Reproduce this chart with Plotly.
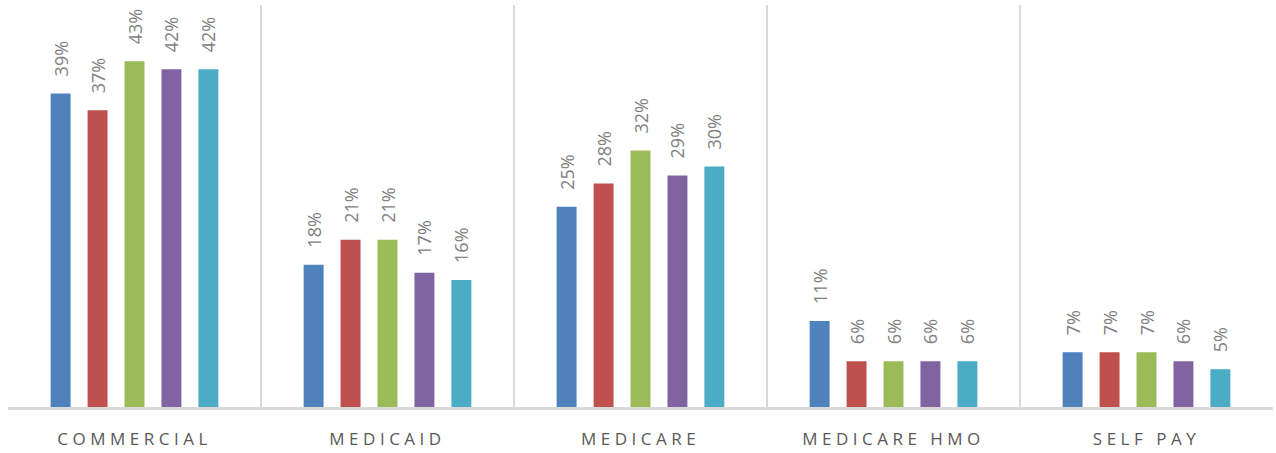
import plotly.graph_objects as go

categories = ["COMMERCIAL", "MEDICAID", "MEDICARE", "MEDICARE HMO", "SELF PAY"]
series_names = ["Series 1", "Series 2", "Series 3", "Series 4", "Series 5"]
s1 = [0.39, 0.177, 0.249, 0.107, 0.068]
s2 = [0.369, 0.208, 0.278, 0.057, 0.068]
s3 = [0.43, 0.208, 0.319, 0.057, 0.068]
s4 = [0.42, 0.167, 0.288, 0.057, 0.057]
s5 = [0.42, 0.158, 0.299, 0.057, 0.047]
series_values = [s1, s2, s3, s4, s5]
colors = ["#4f81bd", "#c0504d", "#9bbb59", "#8064a2", "#4bacc6"]

FONT = "Open Sans, Liberation Sans, sans-serif"
xs = list(range(len(categories)))
fig = go.Figure()
for name, vals, c in zip(series_names, series_values, colors):
    fig.add_trace(go.Bar(
        x=xs, y=vals, name=name, marker=dict(color=c, line=dict(width=0)),
        text=["\u00a0\u00a0\u00a0" + f"{round(v*100)}%" for v in vals], textposition="outside",
        textangle=-90, constraintext="none", cliponaxis=False,
        textfont=dict(family=FONT, size=18, color="#808080"),
        showlegend=False,
    ))

# invisible trace on secondary axis to carry category-boundary gridlines
fig.add_trace(go.Scatter(x=[-0.5, len(categories) - 0.5], y=[0, 0], xaxis="x2",
                         mode="markers", marker=dict(opacity=0), showlegend=False,
                         hoverinfo="skip"))

fig.update_layout(
    width=1276, height=453,
    margin=dict(l=8, r=3, t=5, b=41),
    paper_bgcolor="white", plot_bgcolor="white",
    barmode="group", bargap=0.27, bargroupgap=0.46,
    xaxis=dict(
        range=[-0.5, len(categories) - 0.5], tickvals=xs,
        ticktext=[f'<span style="letter-spacing:4.5px">{c}</span>' for c in categories],
        showgrid=False, zeroline=False, showline=True, linecolor="#d9d9d9", linewidth=2.5,
        ticks="", tickfont=dict(family=FONT, size=17, color="#595959"),
        ticklabelstandoff=15,
    ),
    xaxis2=dict(
        overlaying="x", range=[-0.5, len(categories) - 0.5],
        tickvals=[i - 0.5 for i in range(len(categories) + 1)],
        showgrid=True, gridcolor="#d9d9d9", gridwidth=2, showticklabels=False,
        zeroline=False, ticks="",
    ),
    yaxis=dict(range=[0, 0.5], showgrid=False, showticklabels=False, zeroline=False, ticks=""),
)

post = (
    "document.documentElement.style.margin='0';"
    "document.documentElement.style.overflow='hidden';"
    "document.body.style.margin='0';"
    "document.body.style.overflow='hidden';"
)
fig.write_html("out.html", config={"displayModeBar": False}, post_script=post)
